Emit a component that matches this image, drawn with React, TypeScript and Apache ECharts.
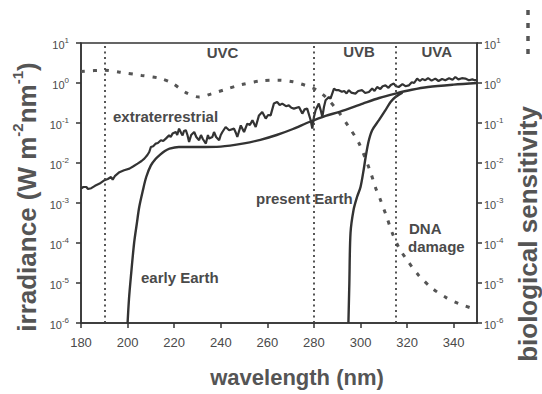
import React, { useEffect, useRef } from "react";
import * as echarts from "echarts";

// Wavelength (nm) paired with log10 of irradiance (W m^-2 nm^-1)
const extraterrestrial: [number, number][] = [
  [180, -2.64], [181, -2.6], [182.3, -2.6], [183, -2.65], [184.4, -2.63], [186, -2.57], [188, -2.515],
  [190.1, -2.43], [191.5, -2.4], [192.9, -2.35], [193.6, -2.42], [194.5, -2.33], [196.5, -2.23],
  [198.5, -2.18], [200.8, -2.14], [202.5, -2.08], [204.3, -2.015], [206, -1.95], [207.2, -1.89],
  [208.5, -1.8], [209.3, -1.725], [210, -1.6], [211, -1.58], [212.1, -1.515], [213, -1.5],
  [214.3, -1.43], [215.3, -1.45], [216.4, -1.39], [217.8, -1.31], [218.5, -1.35], [219.3, -1.265],
  [220.7, -1.225], [221.3, -1.3], [222.1, -1.14], [223, -1.25], [223.6, -1.31], [224.2, -1.2],
  [225, -1.18], [225.7, -1.3], [226.4, -1.475], [227.3, -1.3], [228.6, -1.225], [229.5, -1.35],
  [230.7, -1.43], [231.5, -1.3], [232.3, -1.4], [233.6, -1.515], [234.5, -1.3], [235, -1.39],
  [236.4, -1.35], [237.1, -1.225], [238, -1.35], [239.3, -1.43], [240, -1.3], [240.7, -1.225],
  [242.1, -1.1], [243.6, -1.18], [245.7, -1.14], [246.5, -1.25], [247.1, -1.35], [248.6, -1.06],
  [250, -1.225], [251.4, -1.015], [252.5, -1.05], [253.6, -0.93], [255, -1.1], [256.4, -0.81],
  [257.8, -0.725], [259.3, -0.89], [260.3, -0.8], [261.4, -0.81], [262.8, -0.515], [264.2, -0.475],
  [265.3, -0.55], [266.4, -0.515], [268, -0.58], [269.2, -0.56], [270.3, -0.62], [271.4, -0.64],
  [273.6, -0.6], [275, -0.765], [276, -0.66], [277.1, -0.64], [278.6, -0.93], [279.3, -1.14],
  [280, -0.85], [280.7, -0.68], [282.1, -0.515], [283, -0.7], [283.6, -0.85], [284.3, -0.6],
  [285, -0.43], [286.4, -0.35], [287.1, -0.39], [288.6, -0.14], [289.5, -0.18], [290.7, -0.18],
  [292, -0.22], [293, -0.2], [294, -0.26], [295, -0.18], [296, -0.24], [297.8, -0.265], [299, -0.2],
  [300.7, -0.18], [302, -0.25], [303.6, -0.225], [305, -0.14], [306, -0.2], [307.1, -0.1],
  [308.5, -0.15], [309.5, -0.08], [310.7, -0.06], [312, -0.12], [313, -0.05], [314.3, -0.015],
  [315.2, -0.08], [316.4, -0.1], [318, -0.03], [319.3, -0.08], [320.7, -0.06], [322, 0.02],
  [323, 0.0], [324.3, 0.11], [325.5, 0.05], [326.5, 0.1], [327.8, 0.07], [329, 0.12], [330.5, 0.06],
  [332.1, 0.11], [333.5, 0.05], [335, 0.1], [336.4, 0.07], [338, 0.12], [339.5, 0.08], [340.7, 0.15],
  [342, 0.09], [343.5, 0.12], [345, 0.11], [346.5, 0.07], [348, 0.09], [349, 0.07], [350, 0.07],
];

const earlyEarth: [number, number][] = [
  [200, -6], [200.6, -5.4], [201.4, -4.85], [202.8, -4.0], [204, -3.5], [205, -3.1], [206.5, -2.7],
  [208, -2.35], [210, -2.06], [212, -1.9], [214, -1.79], [216, -1.7], [218, -1.64], [222, -1.6],
  [230, -1.6], [240, -1.59], [250, -1.51], [257, -1.42], [264, -1.3], [271, -1.15], [278, -0.975],
  [285, -0.82], [291, -0.72], [301, -0.515], [308, -0.375], [315, -0.265], [322, -0.17],
  [329, -0.1], [340, -0.04], [350, 0],
];

const presentEarth: [number, number][] = [
  [294.8, -6], [295.2, -5], [295.7, -3.75], [297, -3.175], [298.5, -2.85], [300, -2.6],
  [301.4, -2.15], [302.2, -1.85], [303.5, -1.45], [305, -1.18], [307.9, -0.93], [310.7, -0.68],
  [312.9, -0.475], [315, -0.35], [318, -0.24],
];

// log10 of relative biological sensitivity (DNA damage), right axis
const dnaDamage: [number, number][] = [
  [180, 0.29], [190, 0.32], [196.6, 0.27], [206, 0.19], [213.6, 0.12], [219, 0.0], [225, -0.24],
  [230.7, -0.35], [236, -0.27], [242, -0.16], [249, -0.04], [257, 0.05], [265, 0.07], [271, 0.03],
  [276.4, -0.06], [281, -0.17], [285, -0.35], [290, -0.68], [295, -1.1], [299.3, -1.5],
  [304.3, -2.23], [306.4, -2.61], [308.6, -2.93], [311.3, -3.36], [313.5, -3.73], [316.4, -4.11],
  [320, -4.43], [325, -4.81], [330.7, -5.13], [336.6, -5.36], [342, -5.51], [347.8, -5.63],
  [350, -5.66],
];

const uvBoundaries = [190, 280, 315];
const xMin = 180;
const xMax = 350;
const xStep = 20;
const yMin = 1e-6;
const yMax = 10;

const toValues = (arr: [number, number][]) => arr.map(([x, e]) => [x, Math.pow(10, e)]);

const FONT = "'Liberation Sans', Arial, sans-serif";
const TEXT = "#4a4a4a";
const LINE = "#333";

const tickFormatter = (v: number) => {
  const e = Math.round(Math.log10(v));
  return `{b|10}{s|${e}}`;
};
const tickRich = {
  b: { fontSize: 11, lineHeight: 14, verticalAlign: "bottom", color: TEXT, fontFamily: FONT },
  s: { fontSize: 8, lineHeight: 8, verticalAlign: "top", color: TEXT, fontFamily: FONT },
};

const logAxis = (position: "left" | "right", margin: number) => ({
  type: "log",
  logBase: 10,
  min: yMin,
  max: yMax,
  splitNumber: 7,
  position,
  axisLine: { show: true, lineStyle: { color: LINE, width: 1.5 } },
  axisTick: { show: true, length: 5, lineStyle: { color: LINE, width: 1.5 } },
  minorTick: { show: false },
  splitLine: { show: false },
  axisLabel: { formatter: tickFormatter, rich: tickRich, margin },
});

const labelStyle = (text: string, x: number, y: number, align = "left") => ({
  type: "text",
  x,
  y,
  style: {
    text,
    fill: TEXT,
    font: `bold 15px ${FONT}`,
    align,
    verticalAlign: "middle",
  },
});

export default function App() {
  const ref = useRef<HTMLDivElement>(null);
  useEffect(() => {
    if (!ref.current) return;
    const chart = echarts.init(ref.current, null, { renderer: "svg" });
    chart.setOption({
      animation: false,
      backgroundColor: "#fff",
      grid: {
        left: 81,
        right: 65,
        top: 43,
        bottom: 71,
        show: true,
        borderColor: LINE,
        borderWidth: 1.5,
        backgroundColor: "transparent",
      },
      xAxis: {
        type: "value",
        min: xMin,
        max: xMax,
        interval: xStep,
        axisLine: { show: true, lineStyle: { color: LINE, width: 1.5 } },
        axisTick: { show: true, length: 5, lineStyle: { color: LINE, width: 1.5 } },
        splitLine: { show: false },
        axisLabel: {
          color: TEXT,
          fontSize: 13,
          fontFamily: FONT,
          margin: 13,
          showMaxLabel: false,
        },
      },
      yAxis: [logAxis("left", 12), logAxis("right", 7)],
      graphic: [
        {
          type: "text",
          x: 25,
          y: 197,
          rotation: Math.PI / 2,
          style: {
            text: "{m|irradiance (W m}{s|-2}{m|nm}{s|-1}{m|)}",
            align: "center",
            verticalAlign: "middle",
            fill: "#555",
            rich: {
              m: { fontSize: 26, fontWeight: "bold", fontFamily: FONT, lineHeight: 30, verticalAlign: "bottom", fill: "#555" },
              s: { fontSize: 15, fontWeight: "bold", fontFamily: FONT, lineHeight: 15, verticalAlign: "top", fill: "#555" },
            },
          },
        },
        {
          type: "text",
          x: 528,
          y: 234,
          rotation: Math.PI / 2,
          style: {
            text: "biological sensitivity",
            fill: "#555",
            font: `bold 26px ${FONT}`,
            align: "center",
            verticalAlign: "middle",
          },
        },
        {
          type: "line",
          shape: { x1: 528, y1: 10, x2: 528, y2: 56 },
          style: { stroke: "#555", lineWidth: 3.5, lineDash: [5, 8] },
        },
        {
          type: "text",
          x: 297,
          y: 377,
          style: {
            text: "wavelength (nm)",
            fill: "#555",
            font: `bold 22px ${FONT}`,
            align: "center",
            verticalAlign: "middle",
          },
        },
        labelStyle("UVC", 222.5, 52.5, "center"),
        labelStyle("UVB", 359, 51, "center"),
        labelStyle("UVA", 436.7, 51, "center"),
        labelStyle("extraterrestrial", 113, 116),
        labelStyle("present Earth", 256, 198),
        labelStyle("early Earth", 141, 277),
        labelStyle("DNA", 409, 228),
        labelStyle("damage", 408, 246),
      ],
      series: [
        {
          name: "extraterrestrial",
          type: "line",
          yAxisIndex: 0,
          data: toValues(extraterrestrial),
          symbol: "none",
          lineStyle: { color: LINE, width: 2.2 },
          z: 3,
          markLine: {
            silent: true,
            symbol: "none",
            label: { show: false },
            lineStyle: { color: "#444", width: 1.8, type: [2, 3.5] },
            data: uvBoundaries.map((v) => ({ xAxis: v })),
          },
        },
        {
          name: "early Earth",
          type: "line",
          yAxisIndex: 0,
          data: toValues(earlyEarth),
          symbol: "none",
          smooth: 0.3,
          lineStyle: { color: LINE, width: 2.4 },
          z: 4,
        },
        {
          name: "present Earth",
          type: "line",
          yAxisIndex: 0,
          data: toValues(presentEarth),
          symbol: "none",
          smooth: 0.3,
          lineStyle: { color: LINE, width: 2.4 },
          z: 4,
        },
        {
          name: "DNA damage",
          type: "line",
          yAxisIndex: 1,
          data: toValues(dnaDamage),
          symbol: "none",
          smooth: 0.3,
          lineStyle: { color: "#555", width: 3, type: [4, 8] },
          z: 2,
        },
      ],
    });
    return () => chart.dispose();
  }, []);
  return (
    <div
      ref={ref}
      style={{ position: "fixed", left: 0, top: 0, width: 542, height: 394, background: "#fff" }}
    />
  );
}
